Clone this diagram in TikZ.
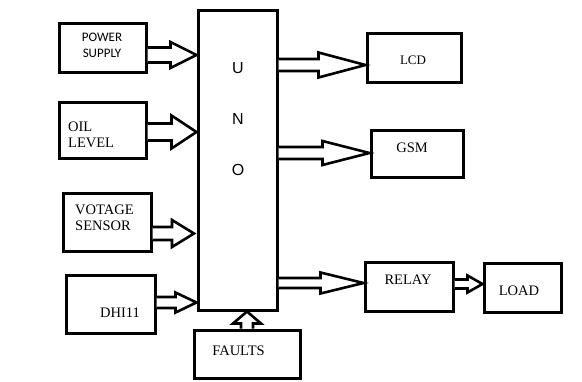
\documentclass[tikz,border=0pt]{standalone}
\usepackage{fontspec}
\setmainfont{Liberation Serif}
\newfontfamily\carl{Carlito}
\newfontfamily\arialf{Liberation Sans}
\usetikzlibrary{calc}
\tikzset{
  box/.style={draw=black, line width=3pt, rectangle, inner sep=0pt, fill=white},
  blk/.style={draw=black, line width=2.6pt, fill=white, line join=miter},
  txt/.style={inner sep=0pt, font=\fontsize{14.5}{16}\selectfont},
}
% horizontal block arrow: #1 start, #2 tip, #3 shaft half, #4 head half, #5 head length
\newcommand\harrow[5]{%
  \draw[blk] let \p1=(#1), \p2=(#2) in
    (\x1,\y1+#3) -- (\x2-#5,\y1+#3) -- (\x2-#5,\y1+#4) -- (\x2,\y1)
    -- (\x2-#5,\y1-#4) -- (\x2-#5,\y1-#3) -- (\x1,\y1-#3);}
% vertical (upward) block arrow
\newcommand\varrow[5]{%
  \draw[blk] let \p1=(#1), \p2=(#2) in
    (\x1+#3,\y1) -- (\x1+#3,\y2-#5) -- (\x1+#4,\y2-#5) -- (\x1,\y2)
    -- (\x1-#4,\y2-#5) -- (\x1-#3,\y2-#5) -- (\x1-#3,\y1);}
\begin{document}
\begin{tikzpicture}[x=1pt,y=-1pt]
\useasboundingbox[fill=white] (0,0) rectangle (582,381);
% boxes
\node[box, minimum width=79pt, minimum height=300pt] (uno) at (237.5,160) {};
\node[box, minimum width=87pt, minimum height=49pt] (ps) at (102.5,47.5) {};
\node[box, minimum width=87pt, minimum height=56pt] (oil) at (102.5,130) {};
\node[box, minimum width=88pt, minimum height=58pt] (vs) at (107,222) {};
\node[box, minimum width=89pt, minimum height=58pt] (dht) at (110.5,304) {};
\node[box, minimum width=106pt, minimum height=48pt] (flt) at (247,354) {};
\node[box, minimum width=94pt, minimum height=49pt] (lcd) at (414,57.5) {};
\node[box, minimum width=92pt, minimum height=47pt] (gsm) at (417,153.5) {};
\node[box, minimum width=88pt, minimum height=49pt] (rly) at (409,286.5) {};
\node[box, minimum width=77pt, minimum height=49pt] (ld) at (522.5,287.5) {};
% texts
\node[inner sep=0pt, font=\arialf\fontsize{16}{17}\selectfont] (u) at (238,68) {U};
\node[inner sep=0pt, font=\arialf\fontsize{16}{17}\selectfont] (n) at (238,119) {N};
\node[inner sep=0pt, font=\arialf\fontsize{16}{17}\selectfont] (o) at (238,170) {O};
\node[inner sep=0pt, font=\carl\fontsize{13}{15.5}\selectfont, align=center] (psT) at (102,45.5) {POWER\\SUPPLY};
\node[txt, align=left, anchor=west] (oilT) at (68,134.5) {OIL\\LEVEL};
\node[txt, align=left, anchor=west] (vsT) at (75,218) {VOTAGE\\SENSOR};
\node[txt] (dhtT) at (120,313) {DHI11};
\node[txt] (fltT) at (238.5,351) {FAULTS};
\node[txt, font=\fontsize{13}{15}\selectfont] (lcdT) at (413,60) {LCD};
\node[txt] (gsmT) at (412,148) {GSM};
\node[txt] (rlyT) at (408,280) {RELAY};
\node[txt] (ldT) at (519,291) {LOAD};
% arrow anchor coordinates
\coordinate (a1) at (ps.east |- 0,55);
\coordinate (a2) at (oil.east |- 0,132);
\coordinate (a3) at (vs.east |- 0,233.5);
\coordinate (a3e) at (194,233.5);
\coordinate (a4) at (dht.east |- 0,302.5);
\coordinate (a5) at (uno.east |- 0,65);
\coordinate (a6) at (uno.east |- 0,153);
\coordinate (a7) at (uno.east |- 0,283);
\coordinate (a8) at (rly.east |- 0,284);
\coordinate (a9) at (flt.north);
% arrows
\harrow{a1}{uno.west |- a1}{7.5pt}{13pt}{26pt}
\harrow{a2}{uno.west |- a2}{8.5pt}{16.5pt}{25pt}
\harrow{a3}{a3e}{6.5pt}{13.5pt}{22pt}
\harrow{a4}{uno.west |- a4}{5.5pt}{10pt}{21pt}
\harrow{a5}{lcd.west |- a5}{6pt}{12.5pt}{47pt}
\harrow{a6}{gsm.west |- a6}{6pt}{12pt}{47pt}
\harrow{a7}{rly.west |- a7}{5pt}{10.5pt}{43pt}
\harrow{a8}{ld.west |- a8}{4.5pt}{8.5pt}{15pt}
\varrow{a9}{uno.south -| a9}{6pt}{14pt}{12pt}
\end{tikzpicture}
\end{document}
